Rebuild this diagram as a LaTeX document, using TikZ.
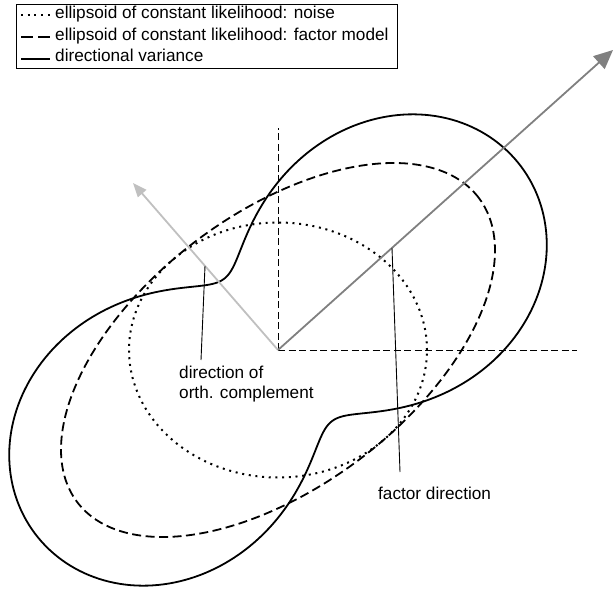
\documentclass[tikz,border=0pt]{standalone}
\usepackage{fontspec}
\setmainfont{Liberation Sans}
\usetikzlibrary{arrows.meta}
\definecolor{arrdark}{RGB}{128,128,128}
\definecolor{arrlight}{RGB}{192,192,192}
\begin{document}
\begin{tikzpicture}[x=1pt,y=-1pt,
  lbl/.style={inner sep=0pt, font=\fontsize{17.2}{20}\selectfont, anchor=base west},
  noise/.style={line width=2pt, dash pattern=on 2pt off 4.7pt},
  factor/.style={line width=1.8pt, dash pattern=on 9pt off 4.5pt},
  dirvar/.style={line width=1.8pt},
  axisline/.style={line width=0.9pt, dash pattern=on 7pt off 3.5pt},
  leader/.style={line width=0.9pt},
  farrow/.style={line width=1.8pt, draw=arrdark, -{Triangle[length=19pt,width=17pt,fill=arrdark]}},
  oarrow/.style={line width=1.8pt, draw=arrlight, -{Triangle[length=14pt,width=11pt,fill=arrlight]}},
]
\useasboundingbox (0,0) rectangle (616,589);

\coordinate (O) at (278,350);
\coordinate (xend) at (577,350);
\coordinate (yend) at (278,128);
\coordinate (ftip) at (613,50);
\coordinate (otip) at (133,183);

% axes
\draw[axisline] (O) -- (xend);
\draw[axisline] (O) -- (yend);

% noise ellipse
\draw[noise] plot[variable=\t, domain=0:360, samples=361]
  ({278+149*cos(\t)},{350-127.5*sin(\t)});

% factor model ellipse
\draw[factor] plot[variable=\t, domain=0:360, samples=361]
  ({278+200.74*cos(\t)-82.40*sin(\t)},{350-152.17*cos(\t)-108.70*sin(\t)});

% directional variance
\draw[dirvar] plot[variable=\t, domain=0:360, samples=361]
  ({278+(226.03*cos(\t)^2+167.85*sin(\t)^2+207.24*sin(\t)*cos(\t))*cos(\t)},
   {350-(226.03*cos(\t)^2+167.85*sin(\t)^2+207.24*sin(\t)*cos(\t))*sin(\t)}) -- cycle;

% arrows
\draw[oarrow] (O) -- (otip);
\draw[farrow] (O) -- (ftip);

% leaders and labels
\coordinate (ol1) at (205,266);
\coordinate (ol2) at (201,360);
\coordinate (fl1) at (392,248);
\coordinate (fl2) at (400,472);
\draw[leader] (ol1) -- (ol2);
\draw[leader] (fl1) -- (fl2);
\node[lbl] (orthA) at (179,378.5) {direction of};
\node[lbl] (orthB) at (179,398) {orth. complement};
\node[lbl] (fdir) at (378,499.3) {factor direction};

% legend
\node[draw, line width=1.1pt, anchor=north west, minimum width=381pt, minimum height=64pt, inner sep=0pt] (legend) at (16,4) {};
\draw[noise] (21,15) -- (50,15);
\draw[line width=1.8pt, dash pattern=on 12pt off 5pt] (21,37) -- (50,37);
\draw[dirvar] (21,59) -- (50,59);
\node[lbl] (lg1) at (55,18.3) {ellipsoid of constant likelihood: noise};
\node[lbl] (lg2) at (55,40) {ellipsoid of constant likelihood: factor model};
\node[lbl] (lg3) at (55,61.7) {directional variance};
\end{tikzpicture}
\end{document}
